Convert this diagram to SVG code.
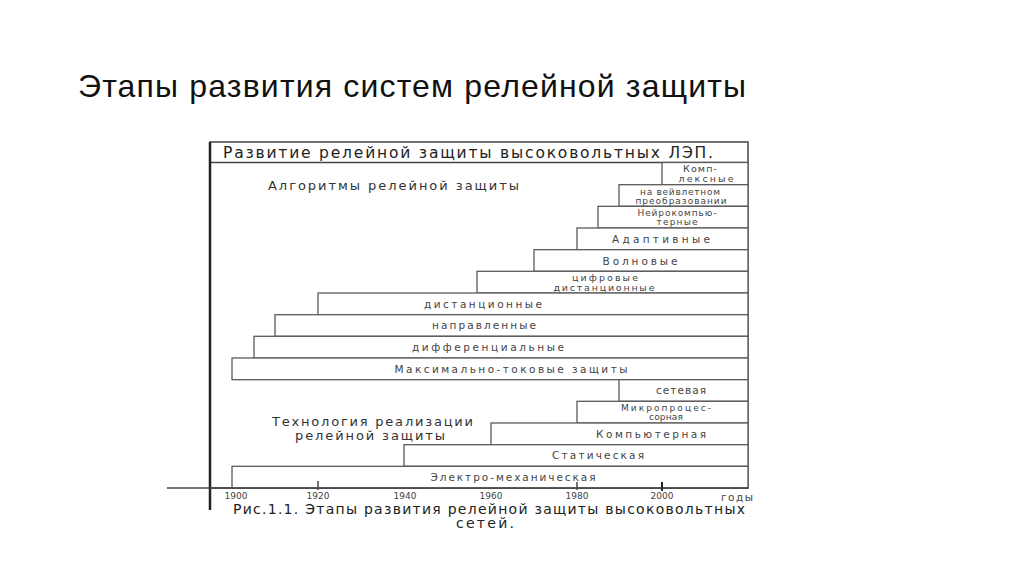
<svg xmlns="http://www.w3.org/2000/svg" width="1024" height="574" viewBox="0 0 1024 574">
<style>
.bg{fill:#ffffff}
.title{font-family:"Liberation Sans",Arial,sans-serif;font-size:32px;fill:#111}
.hd{font-family:"DejaVu Sans",sans-serif;font-size:15.5px;fill:#222}
.sec{font-family:"DejaVu Sans",sans-serif;font-size:13px;fill:#333}
.lbl{font-family:"DejaVu Sans",sans-serif;font-size:10.5px;fill:#444;text-anchor:middle}
.sm{font-family:"DejaVu Sans",sans-serif;font-size:9px;fill:#444;text-anchor:middle}
.yr{font-family:"DejaVu Sans",sans-serif;font-size:9px;fill:#444;text-anchor:middle}
.cap{font-family:"DejaVu Sans",sans-serif;font-size:14px;fill:#222}
.box{fill:#ffffff;stroke:#5a5a5a;stroke-width:1.3}
.frame{fill:none;stroke:#444;stroke-width:1.5}
.thick{stroke:#222;stroke-width:2.5}
.ax{stroke:#444;stroke-width:1.3}
.tick{stroke:#444;stroke-width:1.5}
</style>
<rect class="bg" x="0" y="0" width="1024" height="574"/>
<text class="title" x="78" y="97" textLength="668">Этапы развития систем релейной защиты</text>

<g id="frame">
<rect class="frame" x="210" y="142" width="538" height="346"/>
<line class="frame" x1="210" y1="162.5" x2="748" y2="162.5"/>
<text class="hd" x="223" y="158" textLength="490">Развитие релейной защиты высоковольтных ЛЭП.</text>
<text class="sec" x="268" y="190" textLength="251">Алгоритмы релейной защиты</text>
<text class="sec" x="272" y="426" textLength="201">Технология реализации</text>
<text class="sec" x="295" y="440" textLength="150">релейной защиты</text>
</g>

<g id="n-complex">
<rect class="box" x="662" y="162.5" width="86" height="22.2"/>
<text class="sm" x="700" y="171.5" textLength="34" style="font-size:9.5px">Комп-</text>
<text class="sm" x="706" y="182" textLength="55" style="font-size:9.5px">лексные</text>
</g>
<g id="n-wavelet">
<rect class="box" x="619" y="184.7" width="129" height="21.6"/>
<text class="sm" x="680" y="195" textLength="80">на вейвлетном</text>
<text class="sm" x="681" y="203.5" textLength="91">преобразовании</text>
</g>
<g id="n-neuro">
<rect class="box" x="598" y="206.3" width="150" height="21.7"/>
<text class="sm" x="677" y="216" textLength="79">Нейрокомпью-</text>
<text class="sm" x="677" y="225" textLength="41">терные</text>
</g>
<g id="n-adaptive">
<rect class="box" x="577" y="228" width="171" height="21.7"/>
<text class="lbl" x="661" y="243" textLength="98">Адаптивные</text>
</g>
<g id="n-wave">
<rect class="box" x="534" y="249.7" width="214" height="21.6"/>
<text class="lbl" x="640" y="264.5" textLength="75">Волновые</text>
</g>
<g id="n-digital-distance">
<rect class="box" x="477" y="271.3" width="271" height="21.7"/>
<text class="sm" x="605" y="280.5" textLength="66" style="font-size:9.5px">цифровые</text>
<text class="sm" x="604" y="290.5" textLength="101" style="font-size:9.5px">дистанционные</text>
</g>
<g id="n-distance">
<rect class="box" x="318" y="293" width="430" height="21.7"/>
<text class="lbl" x="483" y="307.5" textLength="118">дистанционные</text>
</g>
<g id="n-directional">
<rect class="box" x="275" y="314.7" width="473" height="21.6"/>
<text class="lbl" x="484" y="329" textLength="104">направленные</text>
</g>
<g id="n-differential">
<rect class="box" x="254" y="336.3" width="494" height="21.7"/>
<text class="lbl" x="488" y="351" textLength="152">дифференциальные</text>
</g>
<g id="n-overcurrent">
<rect class="box" x="232" y="358" width="516" height="21.7"/>
<text class="lbl" x="511" y="372.5" textLength="233">Максимально-токовые защиты</text>
</g>
<g id="n-network">
<rect class="box" x="619" y="379.7" width="129" height="21.6"/>
<text class="lbl" x="681" y="394" textLength="50">сетевая</text>
</g>
<g id="n-microprocessor">
<rect class="box" x="577" y="401.3" width="171" height="21.7"/>
<text class="sm" x="666" y="411" textLength="90">Микропроцес-</text>
<text class="sm" x="666" y="420" textLength="34">сорная</text>
</g>
<g id="n-computer">
<rect class="box" x="491" y="423" width="257" height="21.7"/>
<text class="lbl" x="651" y="437.5" textLength="110">Компьютерная</text>
</g>
<g id="n-static">
<rect class="box" x="404" y="444.7" width="344" height="21.6"/>
<text class="lbl" x="598" y="459" textLength="92">Статическая</text>
</g>
<g id="n-electromech">
<rect class="box" x="232" y="466.3" width="516" height="21.7"/>
<text class="lbl" x="513" y="480.5" textLength="165">Электро-механическая</text>
</g>

<g id="connectors">
<line class="thick" x1="210" y1="142" x2="210" y2="510"/>
<line class="ax" x1="167" y1="488" x2="748" y2="488"/>
<line class="tick" x1="318" y1="481" x2="318" y2="490"/>
<line class="tick" x1="577" y1="482" x2="577" y2="490"/>
<line class="tick" x1="662" y1="482" x2="662" y2="491" style="stroke-width:2;stroke:#222"/>
</g>

<g id="axis-labels">
<text class="yr" x="236" y="499">1900</text>
<text class="yr" x="318" y="499">1920</text>
<text class="yr" x="405" y="499">1940</text>
<text class="yr" x="491" y="499">1960</text>
<text class="yr" x="577" y="499">1980</text>
<text class="yr" x="662" y="499">2000</text>
<text class="yr" x="737" y="501" style="font-size:10.5px" textLength="32">годы</text>
</g>

<g id="caption">
<text class="cap" x="233" y="514" textLength="512">Рис.1.1.  Этапы развития релейной защиты высоковольтных</text>
<text class="cap" x="485" y="528" text-anchor="middle" textLength="58">сетей.</text>
</g>
</svg>
